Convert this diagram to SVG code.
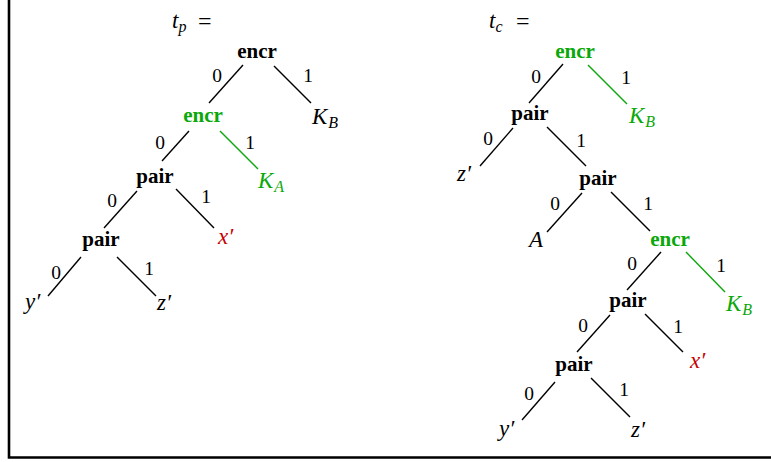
<svg xmlns="http://www.w3.org/2000/svg" width="771" height="462" viewBox="0 0 771 462">
<style>
text{font-family:"Liberation Serif","DejaVu Serif","Times New Roman",serif}
.nd{font-weight:bold;font-size:21px;text-anchor:middle}
.lb{font-size:19.5px;text-anchor:middle;fill:#000}
.mi{font-style:italic;font-size:23px}
.sb{font-size:16px}
.eq{font-size:24px;fill:#000}
.k{fill:#000}
.g{fill:#0aa80a}
.r{fill:#c80000}
.e line{stroke:#000;stroke-width:1.4}
.e line.g{stroke:#0aa80a}
</style>
<rect width="771" height="462" fill="#fff"/>
<g id="frame" fill="none" stroke="#000" stroke-width="2.6">
<polyline points="9,0 9,457.5 771,457.5"/>
</g>
<g id="connectors" class="e">
<line x1="243" y1="65" x2="209" y2="103"/>
<line x1="274" y1="66" x2="311" y2="103"/>
<line x1="189" y1="131" x2="162" y2="161"/>
<line class="g" x1="220" y1="131" x2="258" y2="169"/>
<line x1="137" y1="191" x2="104" y2="228"/>
<line x1="176" y1="189" x2="214" y2="228"/>
<line x1="81" y1="257" x2="48" y2="296"/>
<line x1="117" y1="257" x2="156" y2="296"/>
<line x1="563" y1="64" x2="529" y2="103"/>
<line class="g" x1="588" y1="65" x2="627" y2="104"/>
<line x1="513" y1="128" x2="480" y2="166"/>
<line x1="547" y1="127" x2="586" y2="166"/>
<line x1="582" y1="193" x2="547" y2="232"/>
<line x1="611" y1="192" x2="650" y2="231"/>
<line x1="661" y1="252" x2="627" y2="290"/>
<line class="g" x1="686" y1="252" x2="725" y2="292"/>
<line x1="610" y1="315" x2="577" y2="352"/>
<line x1="645" y1="314" x2="683" y2="352"/>
<line x1="555" y1="382" x2="522" y2="420"/>
<line x1="591" y1="378" x2="630" y2="417"/>
</g>
<g id="edge-labels">
<text class="lb" x="217" y="82">0</text>
<text class="lb" x="308" y="82">1</text>
<text class="lb" x="160" y="149">0</text>
<text class="lb" x="250" y="149">1</text>
<text class="lb" x="112" y="207">0</text>
<text class="lb" x="206" y="203">1</text>
<text class="lb" x="56" y="279">0</text>
<text class="lb" x="149" y="275">1</text>
<text class="lb" x="536" y="83">0</text>
<text class="lb" x="626" y="84">1</text>
<text class="lb" x="488" y="145">0</text>
<text class="lb" x="581" y="147">1</text>
<text class="lb" x="555" y="210">0</text>
<text class="lb" x="648" y="210">1</text>
<text class="lb" x="632" y="270">0</text>
<text class="lb" x="721" y="272">1</text>
<text class="lb" x="583" y="332">0</text>
<text class="lb" x="678" y="333">1</text>
<text class="lb" x="529" y="400">0</text>
<text class="lb" x="624" y="396">1</text>
</g>
<g id="title-tp"><text class="mi k" x="172" y="28">t<tspan class="sb" dy="4">p</tspan></text><text class="eq" x="198" y="29">=</text></g>
<g id="title-tc"><text class="mi k" x="489" y="28">t<tspan class="sb" dy="4">c</tspan></text><text class="eq" x="516" y="29">=</text></g>
<g id="p-encr1"><text class="nd k" x="257" y="58">encr</text></g>
<g id="p-encr2"><text class="nd g" x="203" y="122">encr</text></g>
<g id="p-KB"><text class="mi k" x="312" y="124">K<tspan class="sb" dy="4" dx="1">B</tspan></text></g>
<g id="p-pair1"><text class="nd k" x="155" y="183">pair</text></g>
<g id="p-KA"><text class="mi g" x="258" y="188">K<tspan class="sb" dy="4" dx="1">A</tspan></text></g>
<g id="p-pair2"><text class="nd k" x="101" y="246">pair</text></g>
<g id="p-x"><text class="mi r" x="218" y="244">x′</text></g>
<g id="p-y"><text class="mi k" x="25" y="309">y′</text></g>
<g id="p-z"><text class="mi k" x="157" y="310">z′</text></g>
<g id="c-encr1"><text class="nd g" x="575" y="58">encr</text></g>
<g id="c-KB1"><text class="mi g" x="629" y="123">K<tspan class="sb" dy="4" dx="1">B</tspan></text></g>
<g id="c-pair1"><text class="nd k" x="530" y="120">pair</text></g>
<g id="c-z1"><text class="mi k" x="457" y="181">z′</text></g>
<g id="c-pair2"><text class="nd k" x="598" y="185">pair</text></g>
<g id="c-A"><text class="mi k" x="529" y="247">A</text></g>
<g id="c-encr2"><text class="nd g" x="670" y="246">encr</text></g>
<g id="c-pair3"><text class="nd k" x="628" y="307">pair</text></g>
<g id="c-KB2"><text class="mi g" x="726" y="311">K<tspan class="sb" dy="4" dx="1">B</tspan></text></g>
<g id="c-x"><text class="mi r" x="690" y="368">x′</text></g>
<g id="c-pair4"><text class="nd k" x="574" y="371">pair</text></g>
<g id="c-y"><text class="mi k" x="499" y="436">y′</text></g>
<g id="c-z2"><text class="mi k" x="631" y="437">z′</text></g>
</svg>
